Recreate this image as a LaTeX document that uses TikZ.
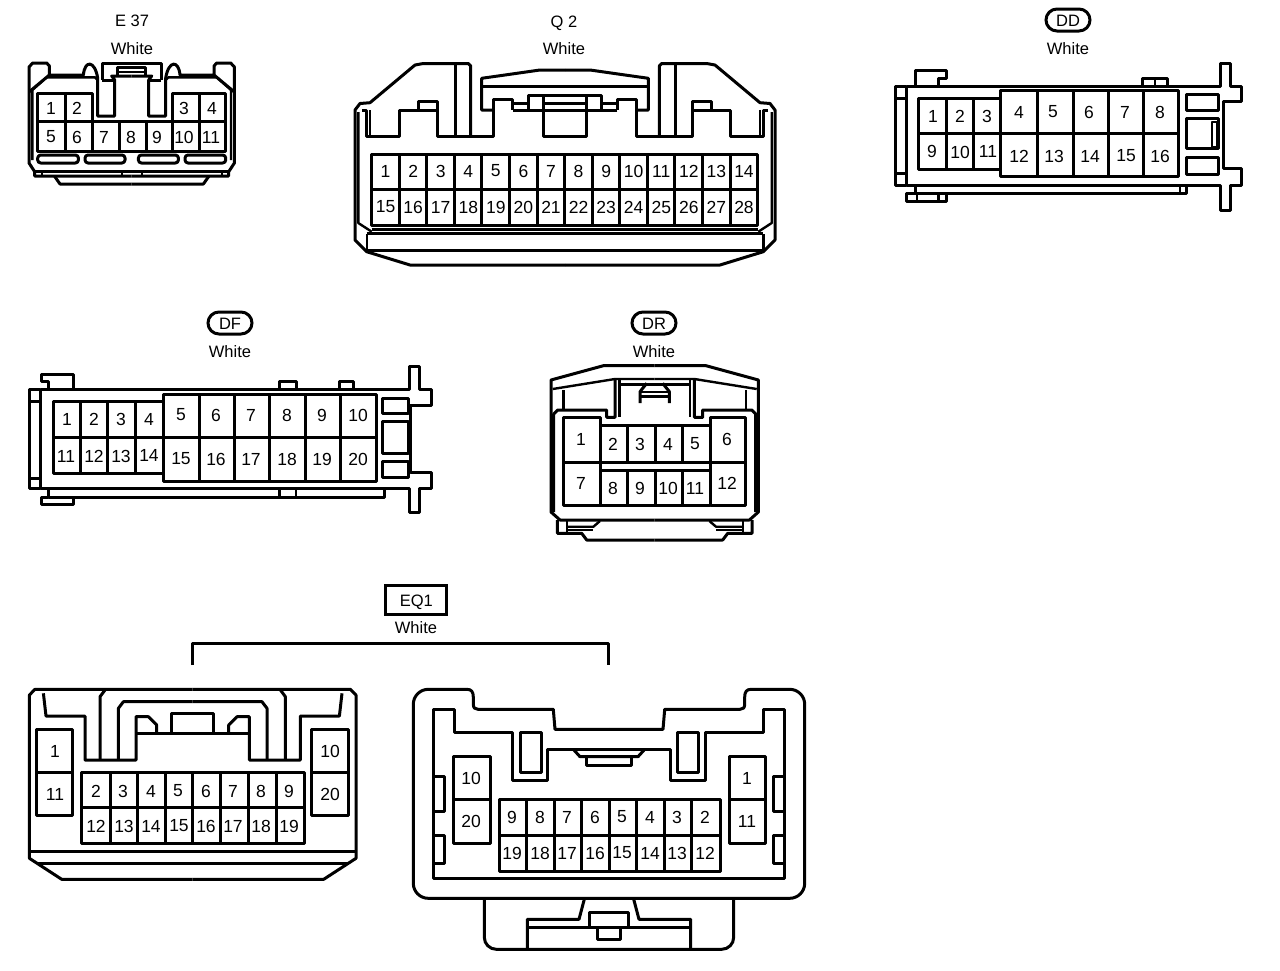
\documentclass[tikz,border=0pt]{standalone}
\usepackage{fontspec}
\setmainfont{Liberation Sans}
\tikzset{>=latex}
\tikzset{wall/.style={line width=3pt,line join=round},
	thinwall/.style={line width=2.4pt,line join=round},
	pinlabel/.style={font=\fontsize{17.5}{20}\selectfont,inner sep=0pt,yshift=-1pt},
	colorlabel/.style={font=\fontsize{16.5}{20}\selectfont,inner sep=0pt,yshift=-1pt},
	pillbox/.style={draw,line width=3pt,rounded corners=11pt,minimum width=44pt,minimum height=22pt,font=\fontsize{16.5}{20}\selectfont,inner sep=0pt,text height=12pt,text depth=0pt}}

\begin{document}
\begin{tikzpicture}[x=1pt,y=-1pt]
		\useasboundingbox (0,0) rectangle (1280,970);
		% Connector E 37
		\node[colorlabel] (e37name) at (132,20) {E 37};
		\node[colorlabel] (e37color) at (132,48) {White};
		\foreach \s in {-1,1} {
		\begin{scope}[shift={(131.7,0)},xscale=\s]
			\draw[wall] (0,176) -- (97,176) -- (97,171.7) -- (102.7,163) -- (102.7,67) -- (99,63) -- (85,63) -- (82.3,66) -- (82.3,75) -- (48.3,75) .. controls (47,60) and (37,60) .. (34,78) -- (34,116) -- (17,116) -- (17,80) -- (20,76) -- (0,76);
			\draw[wall] (82.3,75) -- (102.7,92);
			\draw[thinwall] (99.3,160) -- (99.3,90) -- (85,77.3) -- (36.7,77.3) -- (34,80);
			\draw[wall] (29.3,80) -- (29.3,63) -- (0,63);
			\draw[wall] (29.3,80) -- (17,80);
			\draw[wall] (14,76) -- (14,67) -- (0,67);
			\draw[thinwall] (14,71.7) -- (0,71.7);
			\draw[wall] (0,171.7) -- (97,171.7);
			\draw[thinwall] (90,172) -- (90,176);
			\draw[thinwall] (10,172) -- (10,176);
			\draw[wall] (77.3,176) -- (71.7,184) -- (0,184);
			\draw[wall,rounded corners=3pt] (53.3,155) rectangle (94,163);
			\draw[wall,rounded corners=3pt] (6.7,155) rectangle (46.7,163);
		\end{scope}
		}
		\draw[wall] (37.7,93.3) rectangle (92.3,121);
		\draw[wall] (172.7,93.3) rectangle (225.7,121);
		\draw[wall] (37.7,121) rectangle (225.7,151.7);
		\foreach \x in {65,199.3} \draw[wall] (\x,93.3) -- (\x,121);
		\foreach \x in {65,92.3,119.3,146.7,172.7,199.3} \draw[wall] (\x,121) -- (\x,151.7);
		\foreach \x/\y/\lab in {51/107/1,77/107/2,184/107/3,212/107/4,51/136/5,77/136/6,104/136/7,131/136/8,157/136/9,184/136/10,211/136/11}
			\node[pinlabel] (e\lab) at (\x,\y) {\lab};
		% Connector Q 2
		\node[colorlabel,text height=12pt,text depth=0pt] (q2name) at (564,20) {Q 2};
		\node[colorlabel] (q2color) at (564,48) {White};
		\foreach \s in {-1,1} {
		\begin{scope}[shift={(565,0)},xscale=\s]
			\draw[wall] (0,265) -- (155,265) -- (198.3,251.7) -- (210,240) -- (210,110) -- (205,103.5) -- (195,102.7) -- (150,65) -- (141.7,63.5) -- (96.7,63.5) -- (94.3,66) -- (94.3,136.7);
			\draw[thinwall] (206.7,112) -- (206.7,223) -- (193.3,231.7);
			\draw[wall] (193.3,229.5) -- (0,229.5);
			\draw[wall] (198.3,233.5) -- (0,233.5);
			\draw[thinwall] (198.3,234) -- (198.3,250);
			\draw[wall] (198.3,250) -- (0,250);
			\draw[wall] (203,110) -- (198.3,110) -- (198.3,136.7) -- (165.7,136.7) -- (165.7,110) -- (146.7,110) -- (146.7,101.7) -- (127.7,101.7) -- (127.7,136.7) -- (71.7,136.7) -- (71.7,99.3) -- (52.3,99.3) -- (52.3,110);
			\draw[thinwall] (195,110) -- (195,136.7);
			\draw[wall] (165.7,110) -- (127.7,110);
			\draw[wall] (110,63.5) -- (110,136.7);
			\draw[wall] (71.7,110) -- (83.3,110) -- (83.3,78.3) -- (25,70) -- (0,70);
			\draw[wall] (83.3,86.7) -- (0,86.7);
			\draw[wall] (52.3,110) -- (36.7,110) -- (36.7,95) -- (0,95);
			\draw[thinwall] (52.3,103.3) -- (36.7,103.3);
			\draw[wall] (36.7,110) -- (0,110);
			\draw[wall] (21.7,95) -- (21.7,136.7) -- (0,136.7);
			\draw[thinwall] (21.7,103.3) -- (0,103.3);
		\end{scope}
		}
		\draw[wall] (371.7,154) rectangle (757.7,225);
		\draw[wall] (371.7,189.3) -- (757.7,189.3);
		\foreach \i in {1,...,13} \draw[wall] ({371.7+27.57*\i},154) -- ({371.7+27.57*\i},225);
		\foreach \i in {1,...,14} {
			\pgfmathtruncatemacro{\low}{\i+14}
			\node[pinlabel] (q\i) at ({358+27.57*\i},170) {\i};
			\node[pinlabel] (q\low) at ({358+27.57*\i},206) {\low};
		}
		% Connector DD
		\node[pillbox] (ddname) at (1068,20) {DD};
		\node[colorlabel] (ddcolor) at (1068,48) {White};
		\draw[wall] (895,86.7) rectangle (906.7,185);
		\draw[wall] (895,98) -- (906.7,98);
		\draw[wall] (895,173) -- (906.7,173);
		\draw[wall] (906.7,86.7) -- (1220,86.7) -- (1220,63.3) -- (1230,63.3) -- (1230,86.7) -- (1241.7,86.7) -- (1241.7,101.7) -- (1223,101.7) -- (1223,168) -- (1241.7,168) -- (1241.7,185) -- (1230,185) -- (1230,210) -- (1220,210) -- (1220,185) -- (906.7,185);
		\draw[wall] (915,185) -- (915,193.3) -- (1186.7,193.3) -- (1186.7,185);
		\draw[thinwall] (1180,185) -- (1180,193.3);
		\draw[wall] (906,193.3) rectangle (946.7,201.7);
		\draw[thinwall] (916.7,193.3) -- (916.7,201.7);
		\draw[thinwall] (938.3,193.3) -- (938.3,201.7);
		\draw[wall] (915,86.7) -- (915,70.7) -- (946.7,70.7) -- (946.7,78.3) -- (938.3,78.3) -- (938.3,86.7);
		\draw[wall] (1142.7,86.7) -- (1142.7,78.3) -- (1167.3,78.3) -- (1167.3,86.7);
		\draw[thinwall] (1155,78.3) -- (1155,86.7);
		\draw[wall] (918.3,98.3) rectangle (1000.7,169.3);
		\draw[wall] (918.3,133.3) -- (1000.7,133.3);
		\foreach \x in {946.7,973.3} \draw[wall] (\x,98.3) -- (\x,169.3);
		\draw[wall] (1000.7,90) rectangle (1178.3,176.7);
		\draw[wall] (1000.7,133.3) -- (1178.3,133.3);
		\foreach \x in {1037.7,1073.3,1108.3,1143.3} \draw[wall] (\x,90) -- (\x,176.7);
		\draw[wall] (1186,94.3) rectangle (1218.3,110);
		\draw[wall] (1186,118.3) rectangle (1218.3,148.3);
		\draw[thinwall] (1212,121.7) rectangle (1217,146.7);
		\draw[wall] (1186,157.3) rectangle (1218.3,174);
		\foreach \x/\y/\lab in {933/115/1,960/115/2,987/115/3,1019/111/4,1053/111/5,1089/111/6,1125/111/7,1160/111/8,932/150/9,960/151/10,988/150/11,1019/155/12,1054/155/13,1090/155/14,1126/155/15,1160/155/16}
			\node[pinlabel] (d\lab) at (\x,\y) {\lab};
		% Connector DF
		\node[pillbox] (dfname) at (230,323) {DF};
		\node[colorlabel] (dfcolor) at (230,351) {White};
		\draw[wall] (29.3,389.3) rectangle (40.7,488.3);
		\draw[wall] (29.3,401.7) -- (40.7,401.7);
		\draw[wall] (29.3,478.3) -- (40.7,478.3);
		\draw[wall] (40.7,389.3) -- (409.3,389.3) -- (409.3,366.7) -- (419.3,366.7) -- (419.3,389.3) -- (431.7,389.3) -- (431.7,405) -- (410,405) -- (410,472.3) -- (431.7,472.3) -- (431.7,488.3) -- (419.3,488.3) -- (419.3,512.3) -- (409.3,512.3) -- (409.3,488.3) -- (40.7,488.3);
		\draw[wall] (48.3,389.3) -- (48.3,381.7) -- (41.7,381.7) -- (41.7,374.3) -- (73.3,374.3) -- (73.3,389.3);
		\draw[wall] (279.3,389.3) -- (279.3,381.7) -- (296,381.7) -- (296,389.3);
		\draw[wall] (339.3,389.3) -- (339.3,381.7) -- (353.3,381.7) -- (353.3,389.3);
		\draw[wall] (48.3,488.3) -- (48.3,497.7) -- (384,497.7) -- (384,488.3);
		\draw[thinwall] (279.3,488.3) -- (279.3,497.7);
		\draw[thinwall] (296,488.3) -- (296,497.7);
		\draw[wall] (48.3,497.7) -- (41.7,497.7) -- (41.7,504) -- (73.3,504) -- (73.3,497.7);
		\draw[wall] (53.3,401.7) rectangle (163.3,473.3);
		\draw[wall] (53.3,437.7) -- (163.3,437.7);
		\foreach \x in {80.7,107.7,135} \draw[wall] (\x,401.7) -- (\x,473.3);
		\draw[wall] (163.3,394.3) rectangle (376,481.7);
		\draw[wall] (163.3,437.7) -- (376,437.7);
		\foreach \x in {199.3,234,269.3,305,340.7} \draw[wall] (\x,394.3) -- (\x,481.7);
		\draw[wall] (382.7,398.3) rectangle (408.3,413.3);
		\draw[wall] (382.7,421) rectangle (408.3,453.3);
		\draw[wall] (382.7,461) rectangle (408.3,477.7);
		\foreach \x/\y/\lab in {67/418/1,94/418/2,121/418/3,149/418/4,181/414/5,216/414/6,251/414/7,287/414/8,322/414/9,358/414/10,66/455/11,94/455/12,121/455/13,149/454/14,181/458/15,216/458/16,251/458/17,287/458/18,322/458/19,358/458/20}
			\node[pinlabel] (f\lab) at (\x,\y) {\lab};
		% Connector DR
		\node[pillbox] (drname) at (654,323) {DR};
		\node[colorlabel] (drcolor) at (654,351) {White};
		\foreach \s in {-1,1} {
		\begin{scope}[shift={(654.7,0)},xscale=\s]
			\draw[wall] (0,365.7) -- (51.3,365.7) -- (103.7,380) -- (103.7,512) -- (94.7,520) -- (0,520);
			\draw[thinwall] (102,389) -- (39.7,379) -- (0,379);
			\draw[wall] (39.7,379) -- (39.7,417.3) -- (48,417.3) -- (48,410) -- (97,410) -- (101,414) -- (101,512);
			\draw[thinwall] (35.3,379) -- (35.3,417.3);
			\draw[wall] (35.3,384) -- (0,384);
			\draw[thinwall] (91.3,390) -- (91.3,410);
			\draw[wall] (14.7,403) -- (14.7,391.7) -- (8,383.3);
			\draw[thinwall] (14.7,391.7) -- (0,391.7);
			\draw[wall] (14.7,396.7) -- (0,396.7);
			\draw[wall] (97.3,520) -- (97.3,533.3) -- (73,533.3) -- (68,540) -- (0,540);
			\draw[thinwall] (88,520) -- (88,533.3);
			\draw[thinwall] (88,526.7) -- (61.3,526.7) -- (54.7,521);
			\draw[thinwall] (88,530) -- (61.3,530);
		\end{scope}
		}
		\draw[wall] (563.3,417.7) rectangle (600,505);
		\draw[wall] (563.3,462.3) -- (600,462.3);
		\draw[wall] (710,417.7) rectangle (745,505);
		\draw[wall] (710,462.3) -- (745,462.3);
		\draw[wall] (600,425.7) -- (710,425.7);
		\draw[wall] (600,462.3) -- (710,462.3);
		\draw[wall] (600,470) -- (710,470);
		\draw[wall] (600,505) -- (710,505);
		\foreach \x in {627.7,655,682.3} {
			\draw[wall] (\x,425.7) -- (\x,462.3);
			\draw[wall] (\x,470) -- (\x,505);
		}
		\foreach \x/\y/\lab in {581/438/1,613/443/2,640/443/3,668/443/4,695/443/5,727/438/6,581/482/7,613/487/8,640/487/9,668/487/10,695/487/11,727/482/12}
			\node[pinlabel] (r\lab) at (\x,\y) {\lab};
		% Connector EQ1 with its bracket
		\node[draw,line width=3pt,minimum width=61pt,minimum height=29pt,inner sep=0pt,font=\fontsize{16.5}{20}\selectfont,text height=12pt,text depth=0pt] (eqname) at (416.3,600) {EQ1};
		\node[colorlabel] (eqcolor) at (416,627) {White};
		\coordinate (bracketa) at (192.3,665);
		\coordinate (bracketb) at (608.3,665);
		\draw[wall] (bracketa) -- (192.3,643.3) -- (608.3,643.3) -- (bracketb);
		% Left half of EQ1
		\foreach \s in {-1,1} {
		\begin{scope}[shift={(192.7,0)},xscale=\s]
			\draw[wall] (0,689.3) -- (157.7,689.3) -- (163.3,695) -- (163.3,858.3) -- (131,879.3) -- (0,879.3);
			\draw[wall] (163.3,851.7) -- (0,851.7);
			\draw[wall] (156,863.3) -- (0,863.3);
			\draw[wall] (149.3,693.3) -- (146.7,716) -- (107.7,716) -- (107.7,760) -- (56.7,760) -- (56.7,716.7) -- (44.3,716.7) -- (36,725) -- (36,733.3);
			\draw[wall] (56.7,733.3) -- (0,733.3);
			\draw[wall] (21,733.3) -- (21,713.3) -- (0,713.3);
			\draw[wall] (92.7,760) -- (92.7,696.7) -- (87.7,690);
			\draw[wall] (74.3,760) -- (74.3,708.3) -- (69.3,701.7) -- (0,701.7);
		\end{scope}
		}
		\draw[wall] (36.7,729.3) rectangle (72.7,815);
		\draw[wall] (36.7,772.7) -- (72.7,772.7);
		\draw[wall] (311.7,729.3) rectangle (348.3,815);
		\draw[wall] (311.7,772.7) -- (348.3,772.7);
		\draw[wall] (81.7,772.7) rectangle (304,843.3);
		\draw[wall] (81.7,807.3) -- (304,807.3);
		\foreach \x in {110,137.7,165.7,192.7,220.7,248.3,276} \draw[wall] (\x,772.7) -- (\x,843.3);
		\foreach \x/\y/\lab in {55/750/1,55/793/11,96/790/2,123/790/3,151/790/4,178/790/5,206/790/6,233/790/7,261/790/8,289/790/9,96/825/12,124/825/13,151/825/14,179/825/15,206/825/16,233/825/17,261/825/18,289/825/19,330/750/10,330/793/20}
			\node[pinlabel] (l\lab) at (\x,\y) {\lab};
		% Right half of EQ1
		\foreach \s in {-1,1} {
		\begin{scope}[shift={(609,0)},xscale=\s]
			\draw[wall,rounded corners=15pt] (0,898.3) -- (195.7,898.3) -- (195.7,689.3) -- (142,689.3);
			\draw[wall] (142,689.3) .. controls (137.5,689.3) and (135.7,692) .. (135.7,697) -- (135.7,704) .. controls (135.7,708) and (134,709.3) .. (131,709.3) -- (55.7,709.3) -- (54,729.3) -- (0,729.3);
			\draw[wall] (0,749.3) -- (61.3,749.3) -- (61.3,780) -- (96.7,780) -- (96.7,732.7) -- (154.7,732.7) -- (154.7,709.3) -- (175.7,709.3) -- (175.7,878.3) -- (0,878.3);
			\draw[wall] (89,732.7) rectangle (68,772.7);
			\draw[wall] (35.7,749.3) -- (29,756.7) -- (0,756.7);
			\draw[wall] (22.3,756.7) -- (22.3,765) -- (0,765);
			\draw[wall] (175.7,776) -- (164.7,776) -- (164.7,811.7) -- (175.7,811.7);
			\draw[wall] (175.7,835) -- (164.7,835) -- (164.7,863.3) -- (175.7,863.3);
			\draw[wall,rounded corners=12pt] (124.7,898.3) -- (124.7,949.3) -- (0,949.3);
			\draw[wall] (24.7,899.3) -- (30,919.3) -- (81.7,919.3) -- (81.7,949.3);
			\draw[wall] (81.7,927.3) -- (0,927.3);
			\draw[wall] (19.7,927.3) -- (19.7,912.7) -- (0,912.7);
			\draw[wall] (11.3,927.3) -- (11.3,939.3) -- (0,939.3);
		\end{scope}
		}
		\draw[wall] (453.3,756.7) rectangle (490,843.3);
		\draw[wall] (453.3,799.3) -- (490,799.3);
		\draw[wall] (729.3,756.7) rectangle (765,843.3);
		\draw[wall] (729.3,799.3) -- (765,799.3);
		\draw[wall] (499.3,799.3) rectangle (720,871.7);
		\draw[wall] (499.3,835) -- (720,835);
		\foreach \x in {526.7,554,581.7,609.3,636.7,664.3,691.7} \draw[wall] (\x,799.3) -- (\x,871.7);
		\foreach \x/\y/\lab in {471/777/10,471/820/20,512/816/9,540/816/8,567/816/7,595/816/6,622/816/5,650/816/4,677/816/3,705/816/2,512/852/19,540/852/18,567/852/17,595/852/16,622/852/15,650/852/14,677/852/13,705/852/12,747/777/1,747/820/11}
			\node[pinlabel] (m\lab) at (\x,\y) {\lab};
		\end{tikzpicture}
\end{document}
